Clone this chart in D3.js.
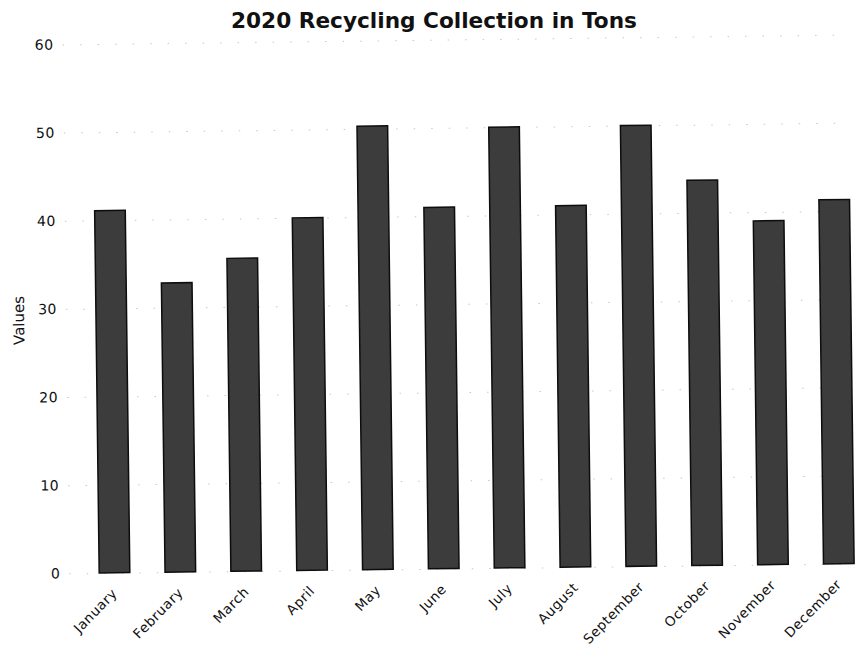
<!DOCTYPE html>
<html>
<head>
<meta charset="utf-8">
<script src="https://cdn.jsdelivr.net/npm/d3@7"></script>
<style>
  html, body { margin: 0; padding: 0; background: #fff; }
  svg { display: block; }
</style>
</head>
<body>
<svg id="chart" width="855" height="656"></svg>
<script>
const months = ["January","February","March","April","May","June","July","August","September","October","November","December"];
const tons = [41.1, 32.8, 35.5, 40.0, 50.3, 41.0, 50.0, 41.0, 50.0, 43.7, 39.0, 41.3];
const yTicks = [0, 10, 20, 30, 40, 50, 60];
const titleText = "2020 Recycling Collection in Tons";
const yLabel = "Values";

const svg = d3.select("#chart");

// title (not tilted)
svg.append("text")
  .attr("x", 434).attr("y", 28)
  .attr("text-anchor", "middle")
  .attr("font-family", "DejaVu Sans, sans-serif")
  .attr("font-weight", "bold")
  .attr("font-size", 21)
  .attr("fill", "#111")
  .attr("textLength", 406)
  .attr("lengthAdjust", "spacingAndGlyphs")
  .text(titleText);

// chart body, slightly tilted like the scan
const g = svg.append("g").attr("transform", "rotate(-0.72, 455, 310)");

const x = d3.scaleBand().domain(months).range([78.3, 868.5]).paddingInner(0.535).paddingOuter(0.2675);
const y = d3.scaleLinear().domain([0, 60]).range([568.5, 39.5]);

// gridlines (faint, as in the scan)
const grid = g.append("g").attr("transform", "translate(66,0)")
  .call(d3.axisLeft(y).tickValues(yTicks).tickSize(-787).tickFormat(""));
grid.select(".domain").remove();
grid.selectAll("line").attr("stroke", "#c8c8c8").attr("stroke-dasharray", "1.5,16").attr("stroke-width", 1);

// y axis labels
const ya = g.append("g").attr("transform", "translate(57,0)")
  .call(d3.axisLeft(y).tickValues(yTicks).tickSize(0).tickPadding(0));
ya.select(".domain").remove();
ya.selectAll("text")
  .attr("font-family", "DejaVu Sans, sans-serif")
  .attr("font-size", 14)
  .attr("letter-spacing", 0.5)
  .attr("fill", "#111");

// bars
g.append("g").selectAll("rect").data(months).join("rect")
  .attr("x", d => x(d))
  .attr("width", x.bandwidth())
  .attr("y", (d, i) => y(tons[i]))
  .attr("height", (d, i) => y(0) - y(tons[i]))
  .attr("fill", "#3c3c3c")
  .attr("stroke", "#0d0d0d")
  .attr("stroke-width", 1.5);

// x axis labels
const xa = g.append("g").attr("transform", `translate(0,${y(0) + 18})`)
  .call(d3.axisBottom(x).tickSize(0).tickPadding(0));
xa.select(".domain").remove();
xa.selectAll("text")
  .attr("font-family", "DejaVu Sans, sans-serif")
  .attr("font-size", 13.5)
  .attr("letter-spacing", 0.6)
  .attr("fill", "#111")
  .attr("text-anchor", "end")
  .attr("dy", "0.35em")
  .attr("transform", "translate(0,0) rotate(-45)");

// y axis title
g.append("text")
  .attr("transform", "translate(24,315) rotate(-90)")
  .attr("text-anchor", "middle")
  .attr("font-family", "DejaVu Sans, sans-serif")
  .attr("font-size", 15)
  .attr("fill", "#111")
  .text(yLabel);
</script>
</body>
</html>
